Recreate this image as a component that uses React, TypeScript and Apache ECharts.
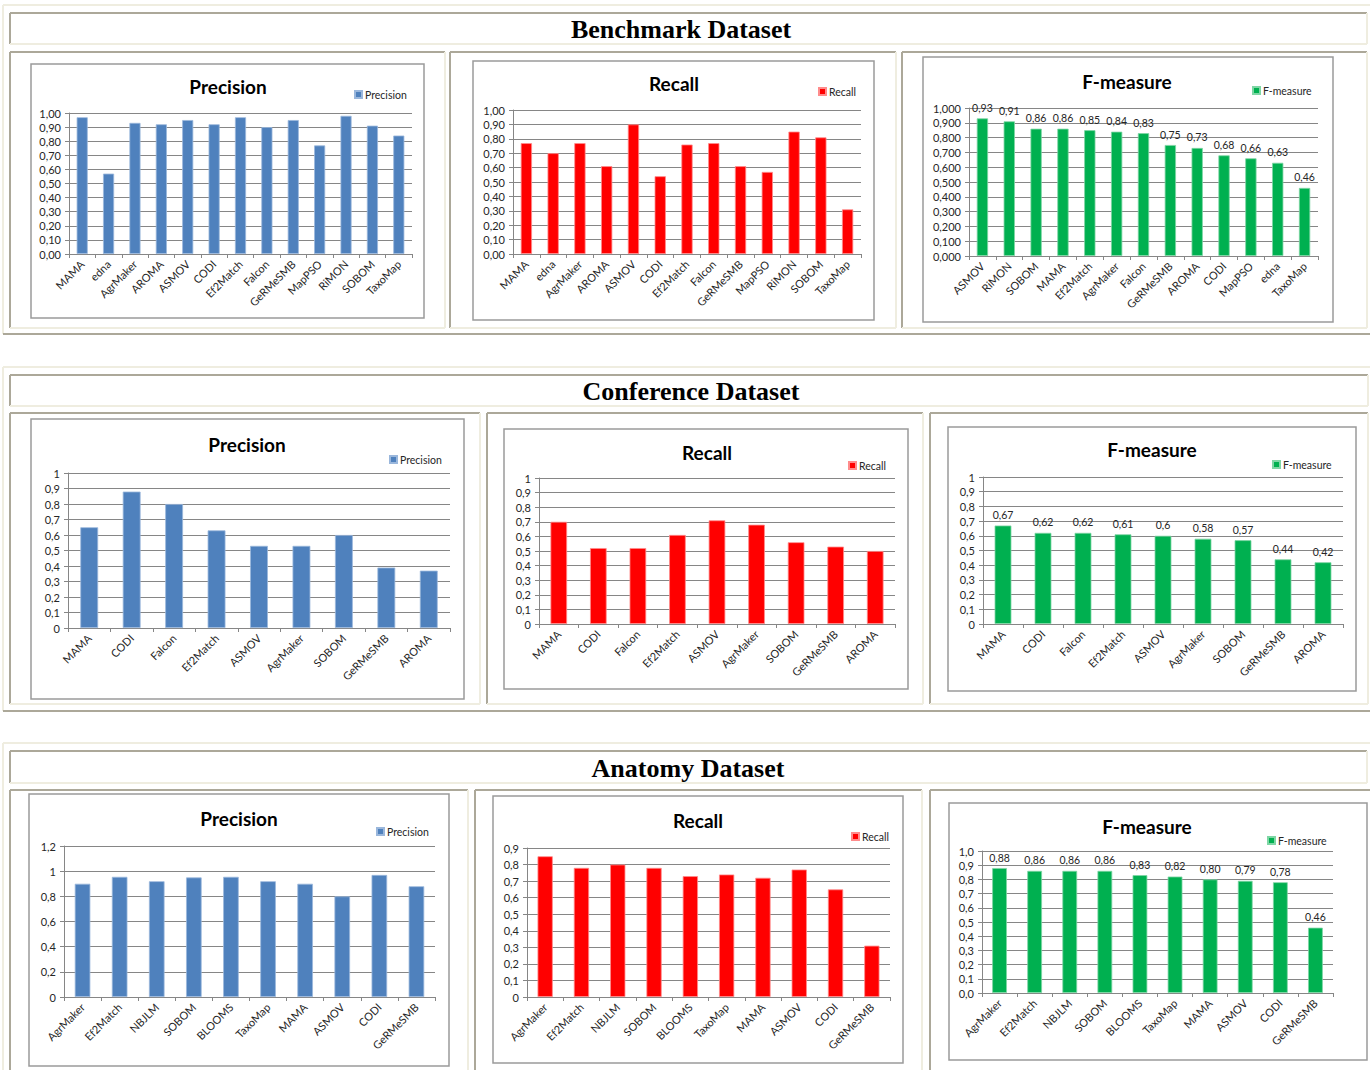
import React, { useEffect, useRef } from "react";
import * as echarts from "echarts";

// ---- Benchmark dataset ----
const benchmarkTools = ["MAMA", "edna", "AgrMaker", "AROMA", "ASMOV", "CODI", "Ef2Match", "Falcon", "GeRMeSMB", "MapPSO", "RiMON", "SOBOM", "TaxoMap"];
const benchmarkPrecision = [0.97, 0.57, 0.93, 0.92, 0.95, 0.92, 0.97, 0.9, 0.95, 0.77, 0.98, 0.91, 0.84];
const benchmarkRecall = [0.77, 0.7, 0.77, 0.61, 0.9, 0.54, 0.76, 0.77, 0.61, 0.57, 0.85, 0.81, 0.31];
const benchmarkFTools = ["ASMOV", "RiMON", "SOBOM", "MAMA", "Ef2Match", "AgrMaker", "Falcon", "GeRMeSMB", "AROMA", "CODI", "MapPSO", "edna", "TaxoMap"];
const benchmarkFMeasure = [0.93, 0.91, 0.86, 0.86, 0.85, 0.84, 0.83, 0.75, 0.73, 0.68, 0.66, 0.63, 0.46];

// ---- Conference dataset ----
const conferenceTools = ["MAMA", "CODI", "Falcon", "Ef2Match", "ASMOV", "AgrMaker", "SOBOM", "GeRMeSMB", "AROMA"];
const conferencePrecision = [0.65, 0.88, 0.8, 0.63, 0.53, 0.53, 0.6, 0.39, 0.37];
const conferenceRecall = [0.7, 0.52, 0.52, 0.61, 0.71, 0.68, 0.56, 0.53, 0.5];
const conferenceFMeasure = [0.67, 0.62, 0.62, 0.61, 0.6, 0.58, 0.57, 0.44, 0.42];

// ---- Anatomy dataset ----
const anatomyTools = ["AgrMaker", "Ef2Match", "NBJLM", "SOBOM", "BLOOMS", "TaxoMap", "MAMA", "ASMOV", "CODI", "GeRMeSMB"];
const anatomyPrecision = [0.9, 0.955, 0.92, 0.95, 0.955, 0.92, 0.9, 0.8, 0.97, 0.88];
const anatomyRecall = [0.85, 0.78, 0.8, 0.78, 0.73, 0.74, 0.72, 0.77, 0.65, 0.31];
const anatomyFMeasure = [0.88, 0.86, 0.86, 0.86, 0.83, 0.82, 0.8, 0.79, 0.78, 0.46];

const sectionTitles = ["Benchmark Dataset", "Conference Dataset", "Anatomy Dataset"];

const SERIES_COLORS: Record<string, [string, string]> = {
  Precision: ["#4f81bd", "#9ab7dc"],
  Recall: ["#ff0000", "#ff8c8c"],
  "F-measure": ["#00b050", "#7fd6a5"],
};

const fixed = (d: number) => (v: number) => v.toFixed(d).replace(".", ",");
const plain = (v: number) => String(Math.round(v * 100) / 100).replace(".", ",");

type Panel = {
  name: string;
  cats: string[];
  values: number[];
  box: [number, number, number, number];
  plot: [number, number, number, number];
  title: [number, number];
  legend: [number, number];
  max: number;
  interval: number;
  yFmt: (v: number) => string;
  labelFmt?: (v: number) => string;
};

const panels: Panel[] = [
  { name: "Precision", cats: benchmarkTools, values: benchmarkPrecision, box: [31, 64, 424, 318], plot: [69, 113, 412, 254], title: [228, 86], legend: [354, 96], max: 1, interval: 0.1, yFmt: fixed(2) },
  { name: "Recall", cats: benchmarkTools, values: benchmarkRecall, box: [473, 61, 874, 320], plot: [513, 110, 861, 254], title: [674, 83], legend: [818, 93], max: 1, interval: 0.1, yFmt: fixed(2) },
  { name: "F-measure", cats: benchmarkFTools, values: benchmarkFMeasure, box: [923, 57, 1333, 322], plot: [969, 108, 1318, 256], title: [1127, 81], legend: [1252, 92], max: 1, interval: 0.1, yFmt: fixed(3), labelFmt: fixed(2) },
  { name: "Precision", cats: conferenceTools, values: conferencePrecision, box: [31, 419, 464, 699], plot: [68, 473, 450, 628], title: [247, 444], legend: [389, 461], max: 1, interval: 0.1, yFmt: plain },
  { name: "Recall", cats: conferenceTools, values: conferenceRecall, box: [504, 429, 908, 689], plot: [539, 478, 895, 624], title: [707, 452], legend: [848, 467], max: 1, interval: 0.1, yFmt: plain },
  { name: "F-measure", cats: conferenceTools, values: conferenceFMeasure, box: [948, 427, 1356, 691], plot: [983, 477, 1343, 624], title: [1152, 449], legend: [1272, 466], max: 1, interval: 0.1, yFmt: plain, labelFmt: plain },
  { name: "Precision", cats: anatomyTools, values: anatomyPrecision, box: [29, 794, 449, 1066], plot: [64, 846, 435, 997], title: [239, 818], legend: [376, 833], max: 1.2, interval: 0.2, yFmt: plain },
  { name: "Recall", cats: anatomyTools, values: anatomyRecall, box: [493, 796, 903, 1063], plot: [527, 848, 890, 997], title: [698, 820], legend: [851, 838], max: 0.9, interval: 0.1, yFmt: plain },
  { name: "F-measure", cats: anatomyTools, values: anatomyFMeasure, box: [949, 803, 1367, 1060], plot: [982, 851, 1333, 993], title: [1147, 826], legend: [1267, 842], max: 1, interval: 0.1, yFmt: fixed(1), labelFmt: fixed(2) },
];

// Table frame geometry: outer tables (raised), header cells and chart cells (sunken)
const outerTables: [number, number, number, number][] = [
  [3, 5, 1374, 334],
  [3, 367, 1374, 711],
  [3, 743, 1374, 1090],
];
const headerCells: [number, number, number, number][] = [
  [10, 13, 1367, 44],
  [10, 375, 1368, 406],
  [10, 751, 1367, 783],
];
const chartCells: [number, number, number, number][] = [
  [10, 52, 445, 328],
  [450, 52, 896, 328],
  [902, 52, 1367, 328],
  [10, 413, 480, 704],
  [487, 413, 923, 704],
  [930, 413, 1368, 704],
  [10, 790, 468, 1090],
  [475, 790, 922, 1090],
  [930, 790, 1374, 1090],
];

const DARK = "#aca899";
const LIGHT = "#efede0";
const GRID = "#868686";
const INK = "#262626";
const FONT = "Lato, 'Noto Sans', sans-serif";

function seg(x1: number, y1: number, x2: number, y2: number, color: string) {
  return { type: "line", silent: true, shape: { x1, y1, x2, y2 }, style: { stroke: color, lineWidth: 2 }, z: 1 };
}

function bevel(r: [number, number, number, number], sunken: boolean) {
  const [x1, y1, x2, y2] = r;
  const tl = sunken ? DARK : LIGHT;
  const br = sunken ? LIGHT : DARK;
  return [seg(x1, y1, x2, y1, tl), seg(x1, y1, x1, y2, tl), seg(x1, y2, x2, y2, br), seg(x2, y1, x2, y2, br)];
}

function buildOption() {
  const graphics: any[] = [];
  outerTables.forEach((r) => graphics.push(...bevel(r, false)));
  headerCells.forEach((r) => graphics.push(...bevel(r, true)));
  chartCells.forEach((r) => graphics.push(...bevel(r, true)));

  headerCells.forEach((r, i) => {
    graphics.push({
      type: "text",
      x: [681, 691, 688][i],
      y: (r[1] + r[3]) / 2 + 1,
      style: {
        text: sectionTitles[i],
        font: "bold 26px 'Liberation Serif', 'Times New Roman', serif",
        fill: "#000",
        textAlign: "center",
        textVerticalAlign: "middle",
      },
      z: 2,
    });
  });

  panels.forEach((p) => {
    const [x1, y1, x2, y2] = p.box;
    graphics.push({
      type: "rect",
      silent: true,
      shape: { x: x1, y: y1, width: x2 - x1, height: y2 - y1 },
      style: { fill: "#ffffff", stroke: "#9b9b9b", lineWidth: 1.5 },
      z: -5,
    });
    graphics.push({
      type: "text",
      x: p.title[0],
      y: p.title[1],
      style: {
        text: p.name,
        font: `bold 19px ${FONT}`,
        fill: "#000",
        textAlign: "center",
        textVerticalAlign: "middle",
      },
      z: 2,
    });
  });

  const grid = panels.map((p) => ({
    left: p.plot[0],
    top: p.plot[1],
    width: p.plot[2] - p.plot[0],
    height: p.plot[3] - p.plot[1],
    containLabel: false,
  }));

  const xAxis = panels.map((p, i) => ({
    type: "category",
    gridIndex: i,
    data: p.cats,
    boundaryGap: true,
    axisLine: { show: true, lineStyle: { color: GRID, width: 1 } },
    axisTick: { show: true, length: 4, interval: 0, alignWithLabel: false, lineStyle: { color: GRID } },
    axisLabel: { interval: 0, rotate: 45, fontSize: 11, fontFamily: FONT, color: INK, margin: 8 },
  }));

  const yAxis = panels.map((p, i) => ({
    type: "value",
    gridIndex: i,
    min: 0,
    max: p.max,
    interval: p.interval,
    axisLine: { show: true, lineStyle: { color: GRID, width: 1 } },
    axisTick: { show: true, length: 4, lineStyle: { color: GRID } },
    splitLine: { show: true, lineStyle: { color: GRID, width: 1 } },
    axisLabel: { fontSize: 11, fontFamily: FONT, color: INK, margin: 8, formatter: (v: number) => p.yFmt(v) },
  }));

  const series = panels.map((p, i) => ({
    type: "bar",
    name: p.name,
    xAxisIndex: i,
    yAxisIndex: i,
    data: p.values,
    barWidth: "42%",
    itemStyle: { color: SERIES_COLORS[p.name][0], borderColor: SERIES_COLORS[p.name][1], borderWidth: 0.8 },
    label: p.labelFmt
      ? {
          show: true,
          position: "top",
          distance: 5,
          fontSize: 10.5,
          fontFamily: FONT,
          color: INK,
          formatter: (d: any) => p.labelFmt!(d.value),
        }
      : { show: false },
  }));

  const legend = panels.map((p) => ({
    data: [p.name],
    left: p.legend[0],
    top: p.legend[1] - 7,
    padding: 0,
    itemWidth: 7,
    itemHeight: 7,
    itemGap: 0,
    icon: "rect",
    selectedMode: false,
    textStyle: { fontSize: 10.5, fontFamily: FONT, color: INK, padding: [0, 0, 0, -2] },
  }));

  return {
    animation: false,
    backgroundColor: "#ffffff",
    grid,
    xAxis,
    yAxis,
    series,
    legend,
    graphic: { elements: graphics },
  };
}

export default function App() {
  const ref = useRef<HTMLDivElement>(null);
  useEffect(() => {
    if (!ref.current) return;
    const chart = echarts.init(ref.current, null, { renderer: "svg" });
    chart.setOption(buildOption() as any);
    return () => chart.dispose();
  }, []);
  return (
    <div
      ref={ref}
      style={{ position: "absolute", left: 0, top: 0, width: 1370, height: 1070, background: "#fff" }}
    />
  );
}
